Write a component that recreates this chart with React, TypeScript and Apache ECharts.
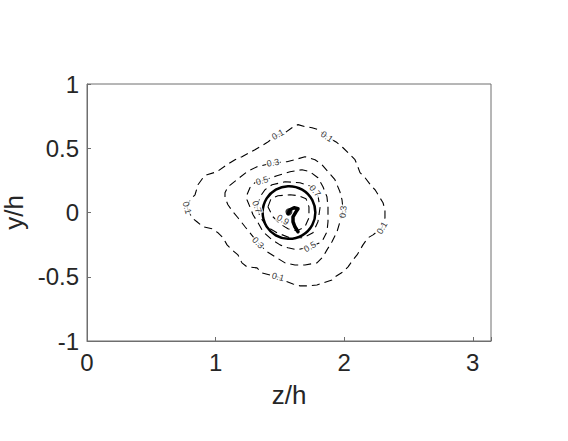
import React, { useEffect, useRef } from "react";
import * as echarts from "echarts";

// Axis ticks
const xTicks = [0, 1, 2, 3];
const yTicks = [-1, -0.5, 0, 0.5, 1];
const zMax = Math.PI;

// Contour lines [z/h, y/h]
const contour01: number[][] = [
  [0.778, 0.037], [0.801, 0.099], [0.84, 0.138], [0.863, 0.216], [0.902, 0.27], [0.933, 0.294],
  [1.011, 0.317], [1.089, 0.372], [1.151, 0.411], [1.205, 0.434], [1.306, 0.489], [1.4, 0.544],
  [1.485, 0.606], [1.54, 0.621], [1.594, 0.66], [1.641, 0.684], [1.695, 0.668], [1.75, 0.66],
  [1.797, 0.645], [1.866, 0.59], [1.944, 0.544], [1.991, 0.504], [2.03, 0.465], [2.084, 0.411],
  [2.1, 0.372], [2.123, 0.31], [2.162, 0.271], [2.216, 0.2], [2.24, 0.177], [2.278, 0.115],
  [2.302, 0.076], [2.317, 0.021], [2.317, -0.041], [2.294, -0.119], [2.224, -0.174], [2.185, -0.197],
  [2.146, -0.252], [2.1, -0.33], [2.068, -0.369], [2.03, -0.423], [1.991, -0.462], [1.928, -0.501],
  [1.905, -0.525], [1.835, -0.548], [1.788, -0.564], [1.718, -0.571], [1.656, -0.571], [1.602, -0.556],
  [1.54, -0.533], [1.485, -0.501], [1.423, -0.486], [1.361, -0.47], [1.322, -0.431], [1.244, -0.423],
  [1.205, -0.392], [1.174, -0.33], [1.127, -0.291], [1.089, -0.252], [1.058, -0.197], [1.019, -0.158],
  [0.972, -0.127], [0.902, -0.111], [0.855, -0.072], [0.816, -0.041], [0.778, 0.037],
];
const contour03: number[][] = [
  [1.446, 0.387], [1.555, 0.395], [1.617, 0.411], [1.695, 0.434], [1.773, 0.411], [1.827, 0.372],
  [1.874, 0.317], [1.928, 0.255], [1.967, 0.161], [1.983, 0.099], [1.991, 0.021], [1.967, -0.072],
  [1.944, -0.15], [1.905, -0.228], [1.866, -0.291], [1.835, -0.345], [1.788, -0.392], [1.695, -0.408],
  [1.617, -0.408], [1.54, -0.392], [1.477, -0.353], [1.4, -0.306], [1.33, -0.236], [1.229, -0.111],
  [1.174, -0.041], [1.135, 0.005], [1.096, 0.06], [1.073, 0.115], [1.073, 0.154], [1.096, 0.2],
  [1.166, 0.255], [1.244, 0.317], [1.322, 0.356], [1.446, 0.387],
];
const contour05: number[][] = [
  [1.361, 0.247], [1.477, 0.286], [1.579, 0.317], [1.672, 0.333], [1.734, 0.317], [1.796, 0.27],
  [1.835, 0.2], [1.866, 0.122], [1.874, 0.044], [1.874, -0.072], [1.866, -0.15], [1.827, -0.228],
  [1.734, -0.267], [1.633, -0.291], [1.563, -0.275], [1.501, -0.252], [1.439, -0.213], [1.369, -0.15],
  [1.33, -0.08], [1.291, -0.018], [1.267, 0.044], [1.244, 0.099], [1.244, 0.138], [1.267, 0.193],
  [1.306, 0.232], [1.361, 0.247],
];
const contour07: number[][] = [
  [1.322, 0.044], [1.345, 0.122], [1.384, 0.177], [1.439, 0.216], [1.54, 0.239], [1.656, 0.232],
  [1.75, 0.2], [1.796, 0.13], [1.812, 0.037], [1.796, -0.072], [1.757, -0.158], [1.68, -0.197],
  [1.579, -0.197], [1.477, -0.158], [1.4, -0.111], [1.345, -0.033], [1.322, 0.044],
];
const contour09: number[][] = [
  [1.407, 0.044], [1.431, 0.107], [1.485, 0.13], [1.579, 0.138], [1.649, 0.13], [1.703, 0.107],
  [1.726, 0.044], [1.726, -0.041], [1.695, -0.111], [1.633, -0.143], [1.563, -0.127], [1.501, -0.088],
  [1.446, -0.033], [1.407, 0.044],
];
// Innermost (peak) contour, drawn as a thick solid mark
const peakCore: number[][] = [
  [1.563, -0.01], [1.579, 0.021], [1.61, 0.037], [1.641, 0.029], [1.625, 0.005], [1.602, -0.034],
  [1.602, -0.072], [1.617, -0.111], [1.641, -0.15],
];
const peakDot: number[][] = [[1.57, 0.005]];

// Circle outline: [center z, center y, radius]
const circle: number[][] = [[Math.PI / 2, 0, 0.205]];

// Contour labels: level, z, y, rotation (deg)
const labelLevels = ["0.1", "0.1", "0.1", "0.1", "0.1", "0.3", "0.3", "0.3", "0.5", "0.5", "0.7", "0.7", "0.9"];
const labelZ = [1.485, 1.866, 2.294, 1.485, 0.778, 1.446, 1.991, 1.33, 1.361, 1.734, 1.773, 1.322, 1.524];
const labelY = [0.606, 0.59, -0.119, -0.501, 0.037, 0.387, 0.005, -0.236, 0.247, -0.267, 0.169, 0.044, -0.057];
const labelRot = [30, -35, 60, -15, -75, 10, 85, -45, 15, 30, -50, -70, -30];

const FONT = "'Liberation Sans', Arial, Helvetica, sans-serif";
const TEXT = "#262626";
const AXIS = "#6e6e6e";

export default function App() {
  const ref = useRef<HTMLDivElement>(null);
  useEffect(() => {
    document.body.style.margin = "0";
    if (!ref.current) return;
    const chart = echarts.init(ref.current, undefined, { renderer: "svg" });
    const dashed = (data: number[][]) => ({
      type: "line",
      data,
      showSymbol: false,
      symbol: "none",
      z: 2,
      silent: true,
      lineStyle: { color: "#000", width: 1.1, type: [8, 5] },
    });
    chart.setOption({
      animation: false,
      grid: {
        left: 87, top: 84, right: 77, bottom: 100,
        containLabel: false, outerBoundsMode: "none",
        show: true, borderColor: AXIS, borderWidth: 1, backgroundColor: "transparent",
      },
      xAxis: {
        type: "value", min: 0, max: zMax, interval: 1,
        name: "z/h", nameLocation: "middle", nameGap: 41,
        nameTextStyle: { fontSize: 26, color: TEXT, fontFamily: FONT },
        axisLine: { show: true, onZero: false, lineStyle: { color: AXIS, width: 1 } },
        axisTick: { show: true, inside: true, length: 4, lineStyle: { color: AXIS } },
        splitLine: { show: false },
        axisLabel: {
          fontSize: 24, color: TEXT, fontFamily: FONT, margin: 9,
          formatter: (v: number) => (xTicks.indexOf(v) >= 0 ? String(v) : ""),
        },
      },
      yAxis: {
        type: "value", min: -1, max: 1, interval: 0.5,
        name: "y/h", nameLocation: "middle", nameGap: 60, nameRotate: 90,
        nameTextStyle: { fontSize: 26, color: TEXT, fontFamily: FONT },
        axisLine: { show: true, onZero: false, lineStyle: { color: AXIS, width: 1 } },
        axisTick: { show: true, inside: true, length: 4, lineStyle: { color: AXIS } },
        splitLine: { show: false },
        axisLabel: {
          fontSize: 24, color: TEXT, fontFamily: FONT, margin: 8,
          formatter: (v: number) => (yTicks.indexOf(v) >= 0 ? String(v) : ""),
        },
      },
      series: [
        dashed(contour01),
        dashed(contour03),
        dashed(contour05),
        dashed(contour07),
        dashed(contour09),
        {
          type: "custom",
          z: 3,
          silent: true,
          data: circle,
          renderItem: (_p: any, api: any) => {
            const c = api.coord([api.value(0), api.value(1)]);
            const s = api.size([api.value(2), api.value(2)]);
            return {
              type: "circle",
              shape: { cx: c[0], cy: c[1], r: s[0] },
              style: { fill: "none", stroke: "#000", lineWidth: 2.5 },
            };
          },
        },
        {
          type: "scatter",
          z: 4,
          silent: true,
          symbolSize: 0,
          itemStyle: { color: "#000" },
          data: labelLevels.map((t, i) => ({
            value: [labelZ[i], labelY[i]],
            name: t,
            label: { rotate: labelRot[i] },
          })),
          label: {
            show: true, position: "inside", formatter: "{b}",
            fontSize: 9, color: "#000", fontFamily: FONT,
            textBorderWidth: 0, textBorderColor: "transparent",
            backgroundColor: "#fff", padding: [0, 1],
          },
        },
        {
          type: "line",
          z: 5,
          silent: true,
          data: peakCore,
          showSymbol: false,
          symbol: "none",
          lineStyle: { color: "#000", width: 3.5, cap: "round", join: "round" },
        },
        {
          type: "scatter",
          z: 5,
          silent: true,
          data: peakDot,
          symbolSize: 7,
          itemStyle: { color: "#000" },
        },
      ],
    });
    return () => chart.dispose();
  }, []);
  return <div ref={ref} style={{ width: 568, height: 441 }} />;
}
